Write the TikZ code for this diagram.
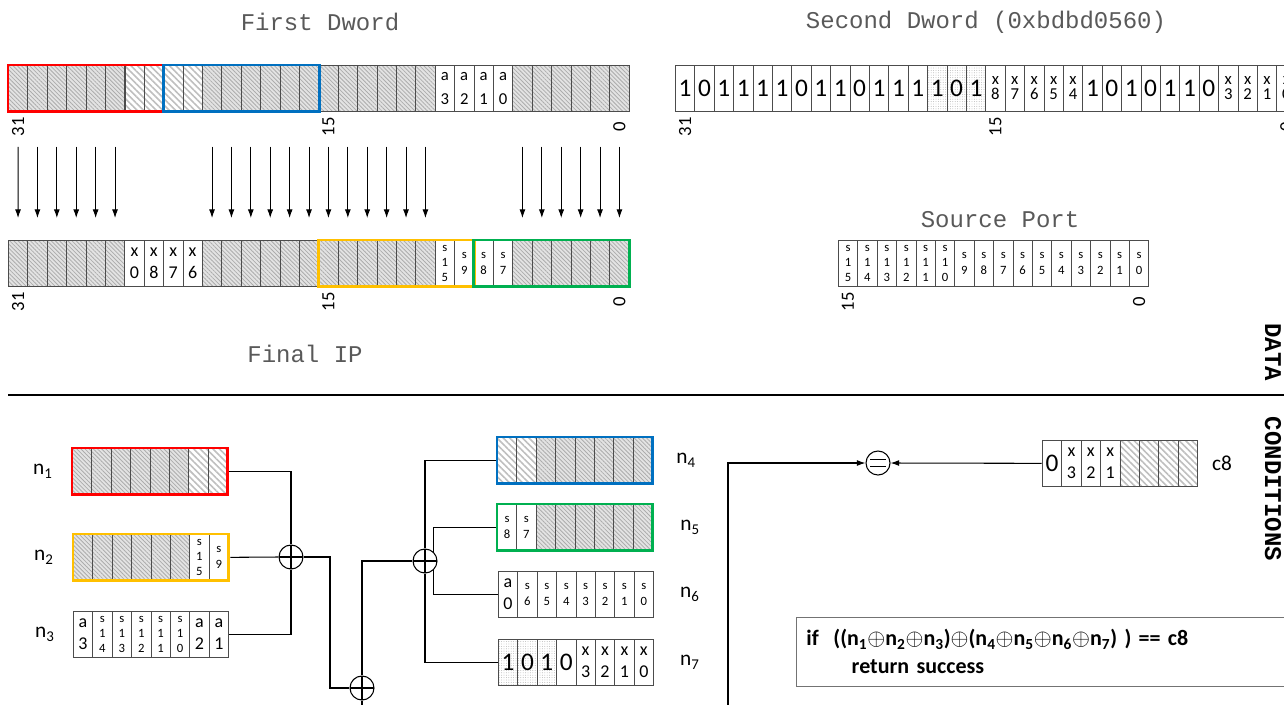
\documentclass[tikz,border=0pt]{standalone}
\usepackage{fontspec}
\setmainfont{Carlito}
\setmonofont{Liberation Mono}
\usetikzlibrary{positioning,calc,fit,patterns.meta,arrows.meta}

\definecolor{boxred}{HTML}{FF0000}
\definecolor{boxblue}{HTML}{0070C0}
\definecolor{boxyellow}{HTML}{FFC000}
\definecolor{boxgreen}{HTML}{00B050}
\definecolor{ttlgray}{HTML}{595959}

% one row of bit cells: name, x, y, list of style/text
\newcommand{\bitrow}[4]{%
  \foreach \sty/\txt [count=\i from 0] in {#4}
    \node[cell,\sty] (#1-\i) at ({#2+19.4*\i},#3) {\txt};}

\tikzset{
  >={Latex[length=6.5pt,width=4.5pt]},
  cell/.style={draw=black!70, line width=0.5pt, minimum width=14.55pt,
    minimum height=34.5pt, inner sep=0pt, anchor=north west, align=center},
  fh/.style={preaction={fill=gray!22},
    pattern={Lines[angle=-45,distance=2.2pt,line width=0.6pt]}, pattern color=gray!65},
  ch/.style={pattern={Lines[angle=-45,distance=3.4pt,line width=1.2pt]}, pattern color=gray!50},
  dt/.style={pattern={Dots[distance=1.8pt,radius=0.35pt]}, pattern color=gray!60},
  wb/.style={fill=white, font=\fontsize{19}{19}\selectfont},
  db/.style={dt, font=\fontsize{19}{19}\selectfont},
  wm/.style={fill=white, font=\fontsize{13.5}{16.5}\selectfont},
  wa/.style={fill=white, font=\fontsize{12.5}{18}\selectfont},
  wx/.style={fill=white, font=\fontsize{12.5}{11.5}\selectfont},
  ws/.style={fill=white, font=\fontsize{9.5}{11.5}\selectfont},
  outline/.style={draw=#1, line width=2.2pt, inner sep=0pt},
  bitno/.style={rotate=90, font=\fontsize{14}{14}\selectfont},
  ttl/.style={font=\ttfamily\fontsize{18}{18}\selectfont, text=ttlgray},
  side/.style={rotate=-90, font=\ttfamily\bfseries\fontsize{18}{18}\selectfont},
  reglbl/.style={font=\fontsize{16}{16}\selectfont},
  wire/.style={line width=0.8pt},
  xor/.style={circle, draw, line width=0.8pt, fill=white, minimum size=18pt, inner sep=0pt,
    path picture={\draw[line width=0.8pt] (path picture bounding box.north) -- (path picture bounding box.south)
      (path picture bounding box.west) -- (path picture bounding box.east);}},
  eqc/.style={circle, draw, line width=0.8pt, fill=white, minimum size=18pt, inner sep=0pt,
    path picture={\draw[line width=0.8pt]
      ($(path picture bounding box.center)+(-6pt,2.6pt)$) -- ++(12pt,0pt)
      ($(path picture bounding box.center)+(-6pt,-2.6pt)$) -- ++(12pt,0pt);}}
}

\begin{document}
\begin{tikzpicture}[x=0.75pt,y=-0.75pt]
  \useasboundingbox (0,0) rectangle (1284,704);
  \clip (0,0) rectangle (1284,704);

  % ---- DATA ----
  \node[ttl] (fdttl) at (320,22) {First Dword};
  \node[ttl] (sdttl) at (986,22) {Second Dword (0xbdbd0560)};
  \node[ttl] (spttl) at (1000,220) {Source Port};
  \node[ttl] (ipttl) at (305,354) {Final IP};

  \bitrow{fd}{8}{65}{fh/{},fh/{},fh/{},fh/{},fh/{},fh/{},ch/{},ch/{},ch/{},ch/{},
    fh/{},fh/{},fh/{},fh/{},fh/{},fh/{},fh/{},fh/{},fh/{},fh/{},fh/{},fh/{},
    wa/{a\\3},wa/{a\\2},wa/{a\\1},wa/{a\\0},fh/{},fh/{},fh/{},fh/{},fh/{},fh/{}}
  \bitrow{sd}{675}{65}{wb/1,wb/0,wb/1,wb/1,wb/1,wb/1,wb/0,wb/1,wb/1,wb/0,wb/1,wb/1,wb/1,
    db/1,db/0,db/1,wx/{x\\8},wx/{x\\7},wx/{x\\6},wx/{x\\5},wx/{x\\4},
    wb/1,wb/0,wb/1,wb/0,wb/1,wb/1,wb/0,wx/{x\\3},wx/{x\\2},wx/{x\\1},wx/{x\\0}}
  \bitrow{ip}{8}{240}{fh/{},fh/{},fh/{},fh/{},fh/{},fh/{},
    wm/{x\\0},wm/{x\\8},wm/{x\\7},wm/{x\\6},
    fh/{},fh/{},fh/{},fh/{},fh/{},fh/{},fh/{},fh/{},fh/{},fh/{},fh/{},fh/{},
    ws/{s\\1\\5},ws/{s\\9},ws/{s\\8},ws/{s\\7},fh/{},fh/{},fh/{},fh/{},fh/{},fh/{}}
  \bitrow{sp}{838}{240}{ws/{s\\1\\5},ws/{s\\1\\4},ws/{s\\1\\3},ws/{s\\1\\2},ws/{s\\1\\1},ws/{s\\1\\0},
    ws/{s\\9},ws/{s\\8},ws/{s\\7},ws/{s\\6},ws/{s\\5},ws/{s\\4},ws/{s\\3},ws/{s\\2},ws/{s\\1},ws/{s\\0}}

  \node[fit=(fd-0)(fd-7), outline=boxred] (fdred) {};
  \node[fit=(fd-8)(fd-15), outline=boxblue] (fdblue) {};
  \node[fit=(ip-16)(ip-23), outline=boxyellow] (ipyel) {};
  \node[fit=(ip-24)(ip-31), outline=boxgreen] (ipgrn) {};

  \node[bitno] (fdb31) at ($(fd-0.south)+(0,15)$) {31};
  \node[bitno] (fdb15) at ($(fd-16.south)+(0,15)$) {15};
  \node[bitno] (fdb0) at ($(fd-31.south)+(0,15)$) {0};
  \node[bitno] (sdb31) at ($(sd-0.south)+(0,15)$) {31};
  \node[bitno] (sdb15) at ($(sd-16.south)+(0,15)$) {15};
  \node[bitno] (sdb0) at ($(sd-31.south)+(0,15)$) {0};
  \node[bitno] (ipb31) at ($(ip-0.south)+(0,15)$) {31};
  \node[bitno] (ipb15) at ($(ip-16.south)+(0,15)$) {15};
  \node[bitno] (ipb0) at ($(ip-31.south)+(0,15)$) {0};
  \node[bitno] (spb15) at ($(sp-0.south)+(0,15)$) {15};
  \node[bitno] (spb0) at ($(sp-15.south)+(0,15)$) {0};

  \foreach \i in {0,1,2,3,4,5,10,11,12,13,14,15,16,17,18,19,20,21,26,27,28,29,30,31}
    \draw[->, line width=0.7pt] ($(fd-\i.south)+(0,35)$) -- ($(ip-\i.north)+(0,-22)$);

  \draw[line width=1.6pt] (8,395) -- (1284,395);
  \node[side] (datalbl) at (1273,352) {DATA};
  \node[side] (condlbl) at (1273,489) {CONDITIONS};

  % ---- CONDITIONS ----
  \bitrow{n1}{72}{448}{fh/{},fh/{},fh/{},fh/{},fh/{},fh/{},ch/{},ch/{}}
  \bitrow{n2}{73}{534}{fh/{},fh/{},fh/{},fh/{},fh/{},fh/{},ws/{s\\1\\5},ws/{s\\9}}
  \bitrow{n3}{73}{611}{wm/{a\\3},ws/{s\\1\\4},ws/{s\\1\\3},ws/{s\\1\\2},ws/{s\\1\\1},ws/{s\\1\\0},wm/{a\\2},wm/{a\\1}}
  \bitrow{n4}{497}{437}{ch/{},ch/{},fh/{},fh/{},fh/{},fh/{},fh/{},fh/{}}
  \bitrow{n5}{497}{504}{ws/{s\\8},ws/{s\\7},fh/{},fh/{},fh/{},fh/{},fh/{},fh/{}}
  \bitrow{n6}{498}{571}{wm/{a\\0},ws/{s\\6},ws/{s\\5},ws/{s\\4},ws/{s\\3},ws/{s\\2},ws/{s\\1},ws/{s\\0}}
  \bitrow{n7}{498}{639}{db/1,db/0,db/1,wb/0,wm/{x\\3},wm/{x\\2},wm/{x\\1},wm/{x\\0}}
  \bitrow{c8}{1042}{440}{wb/0,wm/{x\\3},wm/{x\\2},wm/{x\\1},ch/{},ch/{},ch/{},ch/{}}

  \node[fit=(n1-0)(n1-7), outline=boxred] (n1) {};
  \node[fit=(n2-0)(n2-7), outline=boxyellow] (n2) {};
  \node[fit=(n3-0)(n3-7), inner sep=0pt] (n3) {};
  \node[fit=(n4-0)(n4-7), outline=boxblue] (n4) {};
  \node[fit=(n5-0)(n5-7), outline=boxgreen] (n5) {};
  \node[fit=(n6-0)(n6-7), inner sep=0pt] (n6) {};
  \node[fit=(n7-0)(n7-7), inner sep=0pt] (n7) {};
  \node[fit=(c8-0)(c8-7), inner sep=0pt] (c8) {};

  \node[reglbl, left=10pt of n1] (n1lbl) {n\textsubscript{1}};
  \node[reglbl, left=10pt of n2] (n2lbl) {n\textsubscript{2}};
  \node[reglbl, left=10pt of n3] (n3lbl) {n\textsubscript{3}};
  \node[reglbl, right=13pt of n4] (n4lbl) {n\textsubscript{4}};
  \node[reglbl, right=16pt of n5] (n5lbl) {n\textsubscript{5}};
  \node[reglbl, right=16pt of n6] (n6lbl) {n\textsubscript{6}};
  \node[reglbl, right=16pt of n7] (n7lbl) {n\textsubscript{7}};
  \node[reglbl, right=7pt of c8] (c8lbl) {c8};

  \node[xor] (x1) at (291,557) {};
  \node[xor] (x2) at (425,561) {};
  \node[xor] (x3) at (362,688) {};
  \node[eqc] (eq) at (878,463) {};
  \coordinate (j1) at (330,557);
  \coordinate (j2) at (728,730);

  \draw[wire] (n1.east) -| (x1.north);
  \draw[wire] (n2.east) -- (x1.west);
  \draw[wire] (n3.east) -| (x1.south);
  \draw[wire] (x1.east) -- (j1) |- (x3.west);
  \draw[wire] (n4.west) -| (x2.north);
  \draw[wire] (n5.west) -| (x2.45);
  \draw[wire] (n6.west) -| (x2.-45);
  \draw[wire] (n7.west) -| (x2.south);
  \draw[wire] (x2.west) -| (x3.north);
  \draw[wire,->] (x3.south) |- (j2) |- (eq.west);
  \draw[wire,->] (c8.west) -- (eq.east);

  \node[draw=black!55, line width=0.6pt, anchor=north west, text width=380pt, align=left,
    minimum height=51.75pt, inner xsep=7.5pt, font=\bfseries\fontsize{16.5}{21}\selectfont]
    (cond) at (796,617) {if\ \ ((n\textsubscript{1}$\oplus$n\textsubscript{2}$\oplus$n\textsubscript{3})$\oplus$(n\textsubscript{4}$\oplus$n\textsubscript{5}$\oplus$n\textsubscript{6}$\oplus$n\textsubscript{7}) ) == c8\\
    \hspace*{34pt}return success};
\end{tikzpicture}
\end{document}
